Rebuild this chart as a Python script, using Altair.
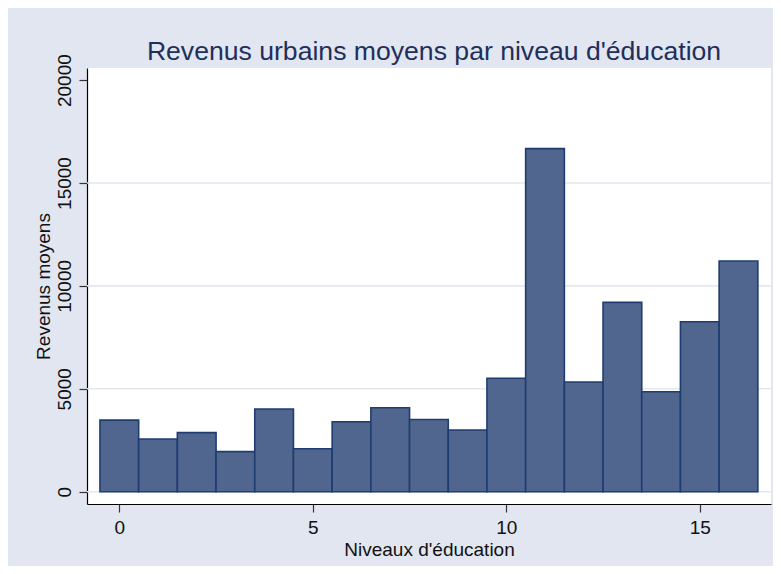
import altair as alt
import pandas as pd

education = list(range(17))
revenue = [3480, 2560, 2870, 1945, 4020, 2090, 3400, 4080, 3510, 3000,
           5510, 16670, 5330, 9200, 4860, 8260, 11210]
grid_values = [0, 5000, 10000, 15000]
y_ticks = [0, 5000, 10000, 15000, 20000]
x_ticks = [0, 5, 10, 15]

df = pd.DataFrame({"edu": education, "rev": revenue})
grid_df = pd.DataFrame({"g": grid_values})

FONT = "Liberation Sans"
BG = "#E2E6F0"

xscale = alt.Scale(domain=[-0.835, 16.84], nice=False, zero=False)
yscale = alt.Scale(domain=[-598, 20588], nice=False, zero=False)

yaxis = alt.Axis(values=y_ticks, title="Revenus moyens", grid=False,
                 labelFontSize=19, titleFontSize=19, labelFont=FONT, titleFont=FONT,
                 labelColor="#111111", titleColor="#111111",
                 domainColor="#000000", domainWidth=1.2,
                 tickColor="#333333", tickSize=8, tickWidth=1.2,
                 labelAngle=270, labelAlign="center", labelBaseline="middle",
                 labelPadding=15, format="d",
                 titleX=-44, titleY=218, titleAngle=270, titleBaseline="middle",
                 titleAlign="center", titleFontWeight="normal")

grid = alt.Chart(grid_df).mark_rule(color="#E3E7F0", strokeWidth=1.6).encode(
    y=alt.Y("g:Q", scale=yscale, axis=yaxis)
)

bars = alt.Chart(df).transform_calculate(
    x0="datum.edu - 0.5", x1="datum.edu + 0.5"
).mark_rect(fill="#51668E", stroke="#1F3C70", strokeWidth=1.6).encode(
    x=alt.X("x0:Q", scale=xscale,
            axis=alt.Axis(values=x_ticks, title="Niveaux d'éducation", grid=False,
                          labelFontSize=19, titleFontSize=19, labelFont=FONT, titleFont=FONT,
                          labelColor="#111111", titleColor="#111111",
                          domainColor="#000000", domainWidth=1.2,
                          tickColor="#333333", tickSize=8, tickWidth=1.2,
                          labelBaseline="middle", labelPadding=15,
                          titleX=342, titleY=45, titleBaseline="middle", titleAlign="center",
                          titleFontWeight="normal", format="d")),
    x2="x1:Q",
    y=alt.Y("rev:Q", scale=yscale, axis=yaxis),
    y2=alt.Y2(datum=0),
)

chart = alt.layer(grid, bars).properties(
    width=684, height=436,
    autosize=alt.AutoSizeParams(type="none"),
    padding={"left": 79, "top": 60, "right": 2, "bottom": 62},
    background=BG,
    title=alt.TitleParams("Revenus urbains moyens par niveau d'éducation",
                          font=FONT, fontSize=26.6, fontWeight="normal",
                          color="#1E2F5C", anchor="middle", baseline="bottom",
                          offset=4, dy=43, dx=5),
).configure_view(fill="white", stroke=None)

chart.save("out.html", embed_options={"renderer": "svg", "actions": False})
